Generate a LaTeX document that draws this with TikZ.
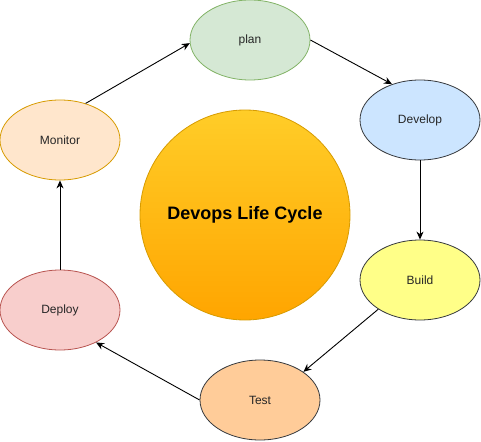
\documentclass[tikz,border=0pt]{standalone}
\usepackage{fontspec}
\setmainfont{Liberation Sans}
\usetikzlibrary{shapes.geometric, arrows.meta}
\definecolor{planfill}{HTML}{D5E8D4}
\definecolor{plandraw}{HTML}{82B366}
\definecolor{devfill}{HTML}{CCE5FF}
\definecolor{buildfill}{HTML}{FFFF88}
\definecolor{testfill}{HTML}{FFCC99}
\definecolor{deployfill}{HTML}{F8CECC}
\definecolor{deploydraw}{HTML}{B85450}
\definecolor{monfill}{HTML}{FFE6CC}
\definecolor{mondraw}{HTML}{D79B00}
\definecolor{darkline}{HTML}{36393D}
\definecolor{cycletop}{HTML}{FFCD28}
\definecolor{cyclebot}{HTML}{FFA500}
\tikzstyle{stage} = [ellipse, minimum width=120pt, minimum height=80pt, inner sep=0pt, line width=0.8pt, font=\fontsize{12}{14}\selectfont, text=black!85]
\tikzstyle{arrow} = [line width=0.9pt,-{Stealth[length=8pt,width=7pt,inset=2.5pt]}]

\begin{document}
\begin{tikzpicture}[x=1pt,y=-1pt]
\useasboundingbox (0,0) rectangle (481,441);
\node (cycle) [circle, minimum size=210pt, inner sep=0pt, draw=mondraw, line width=0.8pt, top color=cycletop, bottom color=cyclebot, font=\bfseries\fontsize{18}{21}\selectfont] at (245,215) {Devops Life Cycle};

\node (plan) [stage, fill=planfill, draw=plandraw] at (250,40) {plan};
\node (develop) [stage, fill=devfill, draw=darkline] at (420,120) {Develop};
\node (build) [stage, fill=buildfill, draw=darkline] at (420,280) {Build};
\node (test) [stage, fill=testfill, draw=darkline] at (260,400) {Test};
\node (deploy) [stage, fill=deployfill, draw=deploydraw] at (60,310) {Deploy};
\node (monitor) [stage, fill=monfill, draw=mondraw] at (60,140) {Monitor};

\draw [arrow] (monitor.55) -- (plan.183);
\draw [arrow] (plan.east) -- (develop.128);
\draw [arrow] (develop.south) -- (build.north);
\draw [arrow] (build.215) -- (test.33);
\draw [arrow] (test.west) -- (deploy.-42);
\draw [arrow] (deploy.north) -- (monitor.south);
\end{tikzpicture}
\end{document}
